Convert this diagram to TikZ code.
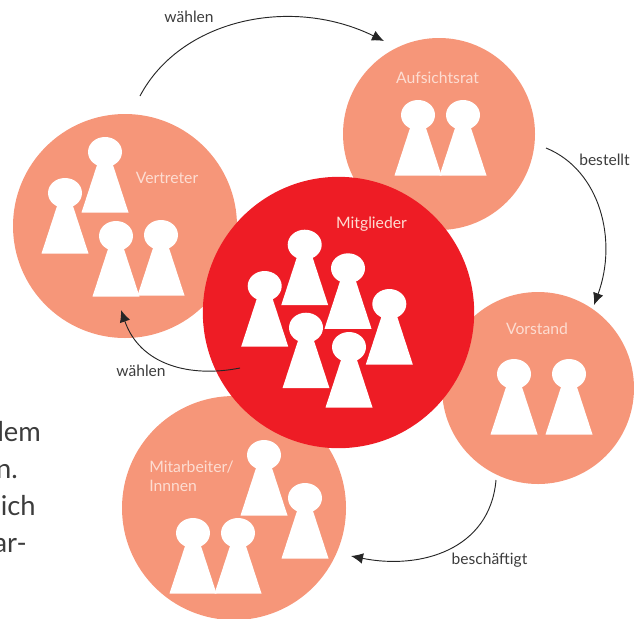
\documentclass[tikz,border=0pt]{standalone}
\usepackage{fontspec}
\setmainfont{Lato}
\usetikzlibrary{arrows.meta,shapes.geometric}
\definecolor{salmon}{HTML}{F69679}
\definecolor{rotkreis}{HTML}{EE1C25}
\definecolor{labelpale}{HTML}{FDDDD2}
\definecolor{textgrey}{HTML}{3C3C3C}
\tikzset{
  x=0.75pt,y=-0.75pt,
  group/.style={circle,fill=salmon,draw=none,inner sep=0pt},
  maingroup/.style={circle,fill=rotkreis,draw=none,inner sep=0pt},
  grouplabel/.style={text=labelpale,font=\fontsize{11.8}{14.3}\selectfont,inner sep=0pt,align=left},
  flowlabel/.style={text=textgrey,font=\fontsize{11.7}{14}\selectfont,inner sep=0pt},
  bodytext/.style={text=textgrey,font=\fontsize{20.5}{24}\selectfont,inner sep=0pt,anchor=base east},
  flow/.style={draw=black!85,line width=0.7pt,-{Latex[length=9pt,width=8pt]}}
}
\newcommand{\pawn}[2]{%
  \fill[white] (#1-7,#2+10) -- (#1+7,#2+10) -- (#1+23.5,#2+60.5) -- (#1-23.5,#2+60.5) -- cycle;
  \fill[white] (#1,#2) ellipse [x radius=17,y radius=15];
}
\begin{document}
\begin{tikzpicture}
\useasboundingbox (0,0) rectangle (634,618);
\begin{scope}
\clip (0,0) rectangle (634,618);
\node[group,minimum size=144pt] (rat) at (439,134) {};
\node[group,minimum size=168pt] (vertreter) at (125,226) {};
\node[group,minimum size=144pt] (vorstand) at (538,388) {};
\node[group,minimum size=168pt] (mitarbeiter) at (234,508) {};
\end{scope}

\pawn{418}{115}\pawn{463}{115}
\pawn{105}{152}\pawn{65}{193}\pawn{116}{236}\pawn{161}{235}
\pawn{514}{374}\pawn{569}{374}
\pawn{264}{455}\pawn{305}{498}\pawn{193}{533}\pawn{238}{533}

\node[maingroup,minimum size=203.5pt] (mitglieder) at (338.5,312.5) {};
\pawn{304.7}{244.7}\pawn{264.7}{286}\pawn{348}{268.3}\pawn{389.3}{304}\pawn{306}{327.7}\pawn{349}{347}

\node[grouplabel] (lrat) at (437.5,78) {Aufsichtsrat};
\node[grouplabel] (lvert) at (167,178) {Vertreter};
\node[grouplabel] (lmit) at (371.5,224) {Mitglieder};
\node[grouplabel] (lvor) at (537,329) {Vorstand};
\node[grouplabel,anchor=north west] (lma) at (149,461) {Mitarbeiter/\\Innnen};

\node[flowlabel] (w1) at (189,17) {wählen};
\node[flowlabel] (b1) at (604.5,160) {bestellt};
\node[flowlabel] (w2) at (141,371) {wählen};
\node[flowlabel] (b2) at (489.5,560) {beschäftigt};

\coordinate (a1) at (140,96);
\coordinate (a2) at (384,41);
\coordinate (c1) at (546,148);
\coordinate (c2) at (594,305);
\coordinate (d1) at (240,368);
\coordinate (d2) at (121,310);
\coordinate (e1) at (496,480);
\coordinate (e2) at (351,556);
\draw[flow] (a1) .. controls (180,20) and (290,-5) .. (a2);
\draw[flow] (c1) .. controls (600,170) and (618,240) .. (c2);
\draw[flow] (d1) .. controls (190,378) and (140,365) .. (d2);
\draw[flow] (e1) .. controls (490,550) and (420,570) .. (e2);

\begin{scope}
\clip (0,0) rectangle (634,618);
\node[bodytext] (t1) at (41,441.5) {dem};
\node[bodytext] (t2) at (18,478.5) {n.};
\node[bodytext] (t3) at (36,515.5) {sich};
\node[bodytext] (t4) at (27,552.5) {ar-};
\end{scope}
\end{tikzpicture}
\end{document}
